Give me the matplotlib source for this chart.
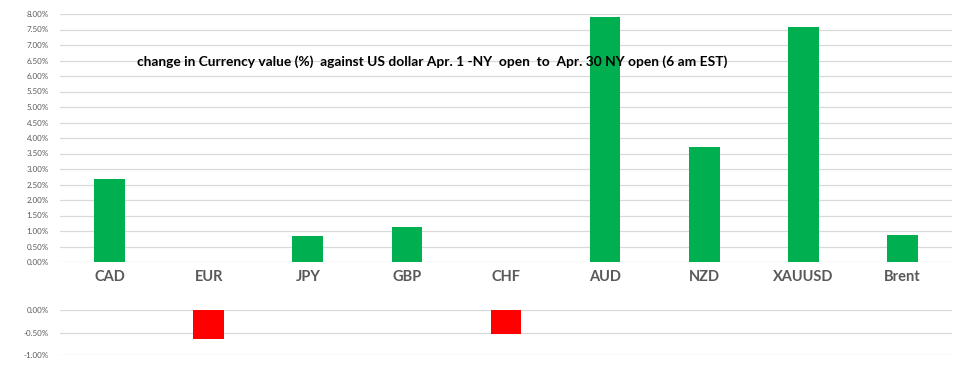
import matplotlib.pyplot as plt
import numpy as np

# Data
categories = ['CAD', 'EUR', 'JPY', 'GBP', 'CHF', 'AUD', 'NZD', 'XAUUSD', 'Brent']
changes = [2.68, -0.64, 0.84, 1.13, -0.53, 7.90, 3.71, 7.58, 0.87]  # percent

title_text = 'change in Currency value (%)  against US dollar Apr. 1 -NY  open  to  Apr. 30 NY open (6 am EST)'

plt.rcParams['font.family'] = ['Lato', 'DejaVu Sans']

fig = plt.figure(figsize=(9.71, 3.66), dpi=100)
W, H = 971, 366

x = np.arange(len(categories))
vals = np.array(changes) / 100.0
pos = np.where(vals > 0, vals, 0)
neg = np.where(vals < 0, vals, 0)

# Upper chart: positive moves
ax_top = fig.add_axes([60 / W, 1 - 262 / H, 892 / W, 248 / H])
ax_top.bar(x, pos, width=0.31, color='#00B050', zorder=2)
ax_top.set_xlim(-0.5, len(categories) - 0.5)
ax_top.set_ylim(0, 0.08)
ax_top.set_yticks(np.arange(0, 0.0801, 0.005))
ax_top.set_yticklabels([f'{v * 100:.2f}%' for v in np.arange(0, 0.0801, 0.005)])
ax_top.set_xticks(x)
ax_top.set_xticklabels(categories, fontsize=10.5, fontweight='bold', color='#595959')
ax_top.tick_params(axis='x', length=0, pad=6)
ax_top.tick_params(axis='y', length=0, pad=8, labelsize=5.8, labelcolor='#595959')
ax_top.grid(axis='y', color='#d9d9d9', linewidth=0.9, zorder=0)
ax_top.set_axisbelow(True)
for s in ax_top.spines.values():
    s.set_visible(False)
ax_top.text((137 - 60) / 892, (262 - 62) / 248, title_text, transform=ax_top.transAxes,
            ha='left', va='center', fontsize=9.95, fontweight='bold', color='black', zorder=5)

# Lower chart: negative moves
ax_bot = fig.add_axes([60 / W, 1 - 355 / H, 892 / W, 45 / H])
ax_bot.bar(x, neg, width=0.31, color='#FF0000', zorder=2)
ax_bot.set_xlim(-0.5, len(categories) - 0.5)
ax_bot.set_ylim(-0.01, 0)
ax_bot.set_yticks([0, -0.005, -0.01])
ax_bot.set_yticklabels(['0.00%', '-0.50%', '-1.00%'])
ax_bot.set_xticks([])
ax_bot.tick_params(axis='y', length=0, pad=8, labelsize=5.8, labelcolor='#595959')
ax_bot.grid(axis='y', color='#d9d9d9', linewidth=0.9, zorder=0)
ax_bot.set_axisbelow(True)
for s in ax_bot.spines.values():
    s.set_visible(False)

fig.savefig('out.png', dpi=100)
